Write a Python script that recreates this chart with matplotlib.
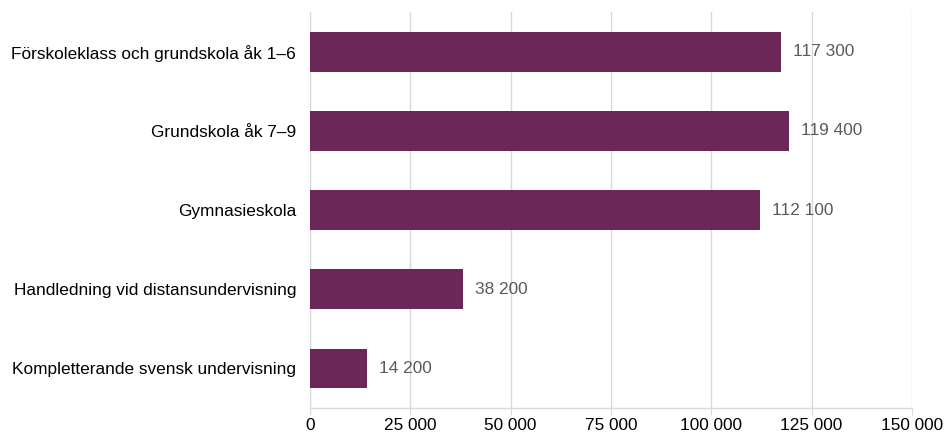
import matplotlib.pyplot as plt
from matplotlib.ticker import FuncFormatter

categories = [
    "Förskoleklass och grundskola åk 1–6",
    "Grundskola åk 7–9",
    "Gymnasieskola",
    "Handledning vid distansundervisning",
    "Kompletterande svensk undervisning",
]
values = [117300, 119400, 112100, 38200, 14200]
xticks = [0, 25000, 50000, 75000, 100000, 125000, 150000]

BAR_COLOR = "#6B2758"
GRID_COLOR = "#D9D9D9"


def fmt(v, pos=None):
    return f"{int(v):,}".replace(",", " ")


plt.rcParams['font.family'] = ['Liberation Sans', 'DejaVu Sans']
FS = 12.4

fig = plt.figure(figsize=(9.45, 4.34), dpi=100)
ax = fig.add_axes([0.328, 0.06, 0.637, 0.912])

ypos = list(range(len(categories)))
ax.barh(ypos, values, height=0.5, color=BAR_COLOR, zorder=3)

for y, v in zip(ypos, values):
    ax.text(v + 3000, y, fmt(v), va='center', ha='left', fontsize=FS, color="#595959")

ax.set_xlim(0, 150000)
ax.set_ylim(len(categories) - 0.5, -0.5)
ax.set_xticks(xticks)
ax.xaxis.set_major_formatter(FuncFormatter(fmt))
ax.set_yticks(ypos)
ax.set_yticklabels(categories)

ax.grid(axis='x', color=GRID_COLOR, linewidth=1, zorder=0)
for side in ['top', 'right', 'left']:
    ax.spines[side].set_visible(False)
ax.spines['bottom'].set_color(GRID_COLOR)
ax.spines['bottom'].set_linewidth(1)

ax.tick_params(axis='x', length=5, color=GRID_COLOR, labelsize=FS, labelcolor="#000000", pad=2)
ax.tick_params(axis='y', length=0, labelsize=FS, labelcolor="#000000", pad=10)

fig.savefig("out.png", dpi=100)
